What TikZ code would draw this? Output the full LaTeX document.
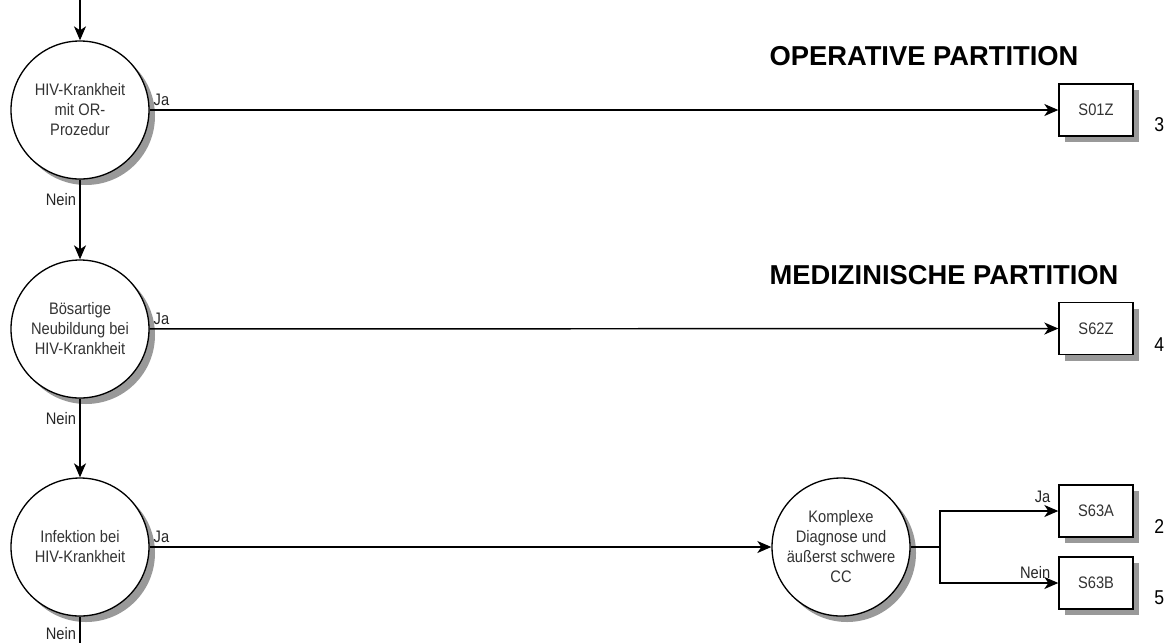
\documentclass[tikz,border=0pt]{standalone}
\usepackage{fontspec}
\setmainfont{Liberation Sans}
\newfontfamily\narrowfont[FakeStretch=0.88]{Liberation Sans}
\usetikzlibrary{arrows.meta,positioning,calc,shadows}

\tikzset{
  question/.style={circle, draw, line width=1pt, fill=white, minimum size=103.5pt,
    inner sep=0pt, align=center, text=black!80,
    font=\narrowfont\fontsize{12.5}{15}\selectfont,
    drop shadow={shadow xshift=4.5pt, shadow yshift=-4.5pt, fill=black!40, opacity=1}},
  drg/.style={rectangle, draw, line width=1pt, fill=white, minimum width=55.5pt,
    minimum height=39pt, text=black!80, font=\narrowfont\fontsize{12.5}{15}\selectfont,
    drop shadow={shadow xshift=4.5pt, shadow yshift=-4.5pt, fill=black!40, opacity=1}},
  flow/.style={line width=1.1pt, -{Stealth[length=10.5pt, width=9pt, inset=3pt]}},
  plain/.style={line width=1.1pt},
  lbl/.style={font=\narrowfont\fontsize{12.5}{14}\selectfont, text=black!85, inner sep=2.5pt},
  parttitle/.style={font=\bfseries\fontsize{20.5}{24}\selectfont},
  weight/.style={font=\narrowfont\fontsize{15}{17}\selectfont, anchor=west}
}

\begin{document}
\begin{tikzpicture}[x=0.75pt, y=-0.75pt]
    \useasboundingbox (0,0) rectangle (1166,643);

    % Partition titles
    \node[parttitle] (op) at (924,56) {OPERATIVE PARTITION};
    \node[parttitle] (med) at (944,275) {MEDIZINISCHE PARTITION};

    % Questions
    \coordinate (entry) at (80,0);
    \coordinate (exit) at (80,643);
    \node[question] (hiv) at (80,110) {HIV-Krankheit\\mit OR-\\Prozedur};
    \node[question] (neo) at (80,329) {Bösartige\\Neubildung bei\\HIV-Krankheit};
    \node[question] (inf) at (80,547) {Infektion bei\\HIV-Krankheit};
    \node[question] (kompl) at (841,547) {Komplexe\\Diagnose und\\äußerst schwere\\CC};

    % DRGs
    \node[drg] (s01z) at (1096,110) {S01Z};
    \node[drg] (s62z) at (1096,328.5) {S62Z};
    \node[drg] (s63a) at (1096,511) {S63A};
    \node[drg] (s63b) at (1096,583) {S63B};
    \node[weight] (w1) at ($(s01z.east)+(16,15)$) {3};
    \node[weight] (w2) at ($(s62z.east)+(16,16)$) {4};
    \node[weight] (w3) at ($(s63a.east)+(16,16)$) {2};
    \node[weight] (w4) at ($(s63b.east)+(16,15)$) {5};

    % Nein path
    \draw[flow] (entry) -- (hiv);
    \draw[flow] (hiv) -- node[lbl, left, pos=0.25] {Nein} (neo);
    \draw[flow] (neo) -- node[lbl, left, pos=0.25] {Nein} (inf);
    \draw[plain] (inf) -- node[lbl, left, pos=0.63] {Nein} (exit);

    % Ja path
    \draw[flow] (hiv) -- node[lbl, above right, pos=0] {Ja} (s01z);
    \draw[flow] (neo) -- node[lbl, above right, pos=0] {Ja} (s62z);
    \draw[flow] (inf) -- node[lbl, above right, pos=0] {Ja} (kompl);

    % Split on CC
    \coordinate (split) at (940,547);
    \draw[plain] (kompl) -- (split);
    \draw[flow] (split) |- node[lbl, above left, pos=1, xshift=-3pt, yshift=3pt] {Ja} (s63a);
    \draw[flow] (split) |- node[lbl, above left, pos=1, xshift=-3pt] {Nein} (s63b);
\end{tikzpicture}
\end{document}
